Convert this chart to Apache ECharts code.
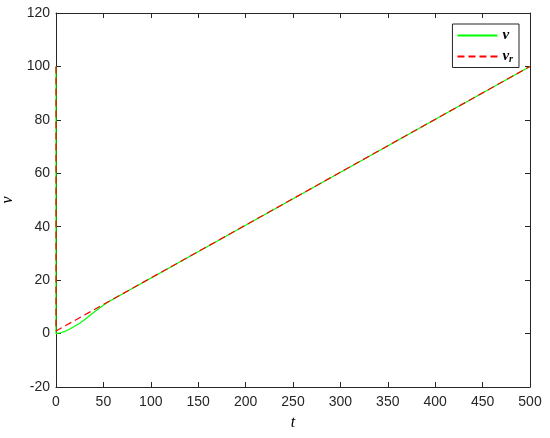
<!DOCTYPE html>
<html>
<head>
<meta charset="utf-8">
<script src="https://cdn.jsdelivr.net/npm/echarts@6/dist/echarts.min.js"></script>
<style>
  html, body { margin: 0; padding: 0; background: #fff; }
  #chart { width: 550px; height: 438px; }
</style>
</head>
<body>
<div id="chart"></div>
<script>
// values: [t, value]
const vPoints = [
  [0, 100], [0, 0], [5, 0.3], [10, 0.9], [15, 1.8], [20, 2.8], [25, 3.9],
  [30, 5.2], [35, 6.6], [40, 8.0], [45, 9.3], [50, 10.6], [55, 11.8],
  [500, 100]
]
const vrPoints = [[0, 100], [0, 1], [500, 100]]
const xTicks = [0, 50, 100, 150, 200, 250, 300, 350, 400, 450, 500]
const yTicks = [-20, 0, 20, 40, 60, 80, 100, 120]

const AXIS = '#262626'
const chart = echarts.init(document.getElementById('chart'))

const axisLine = () => ({ show: true, onZero: false, lineStyle: { color: AXIS, width: 1 } })
const axisTick = () => ({ show: true, inside: true, length: 5, lineStyle: { color: AXIS } })
const labelFont = { color: AXIS, fontFamily: 'Liberation Sans', fontSize: 14 }
const mathFont = { fontFamily: 'Liberation Serif', fontStyle: 'italic', fontSize: 16, color: '#000' }

chart.setOption({
  animation: false,
  backgroundColor: '#fff',
  grid: { left: 56, right: 20, top: 13, bottom: 51, containLabel: false, outerBoundsMode: 'none' },
  legend: {
    right: 31,
    top: 24,
    orient: 'vertical',
    itemWidth: 40,
    itemHeight: 10,
    itemGap: 6,
    padding: [4, 6, 3, 4],
    borderColor: AXIS,
    borderWidth: 1,
    backgroundColor: '#fff',
    itemStyle: { opacity: 0 },
    data: ['v', 'vr'],
    formatter: (name) => name === 'v' ? '{v|v}' : '{v|v}{sub|r}',
    textStyle: {
      rich: {
        v: { ...mathFont, fontWeight: 'bold', fontSize: 15 },
        sub: { ...mathFont, fontWeight: 'bold', fontSize: 10, verticalAlign: 'bottom', padding: [6, 0, 0, 0] }
      }
    }
  },
  xAxis: [
    {
      type: 'value', min: 0, max: 500, interval: 50,
      axisLine: axisLine(), axisTick: axisTick(), splitLine: { show: false },
      axisLabel: { ...labelFont, margin: 8 },
      name: 't', nameLocation: 'middle', nameGap: 28,
      nameTextStyle: mathFont
    },
    {
      type: 'value', position: 'top', min: 0, max: 500, interval: 50,
      axisLine: axisLine(), axisTick: axisTick(),
      axisLabel: { show: false }, splitLine: { show: false }
    }
  ],
  yAxis: [
    {
      type: 'value', min: -20, max: 120, interval: 20,
      axisLine: axisLine(), axisTick: axisTick(), splitLine: { show: false },
      axisLabel: { ...labelFont, margin: 6 },
      name: 'v', nameLocation: 'middle', nameGap: 37, nameRotate: 90,
      nameTextStyle: mathFont
    },
    {
      type: 'value', position: 'right', min: -20, max: 120, interval: 20,
      axisLine: axisLine(), axisTick: axisTick(),
      axisLabel: { show: false }, splitLine: { show: false }
    }
  ],
  series: [
    {
      name: 'v', type: 'line', data: vPoints, symbol: 'none',
      lineStyle: { color: '#00ff00', width: 1.2 }, itemStyle: { color: '#00ff00' }
    },
    {
      name: 'vr', type: 'line', data: vrPoints, symbol: 'none',
      lineStyle: { color: '#ff0000', width: 1.2, type: [7, 4] }, itemStyle: { color: '#ff0000' }
    }
  ]
})
</script>
</body>
</html>
